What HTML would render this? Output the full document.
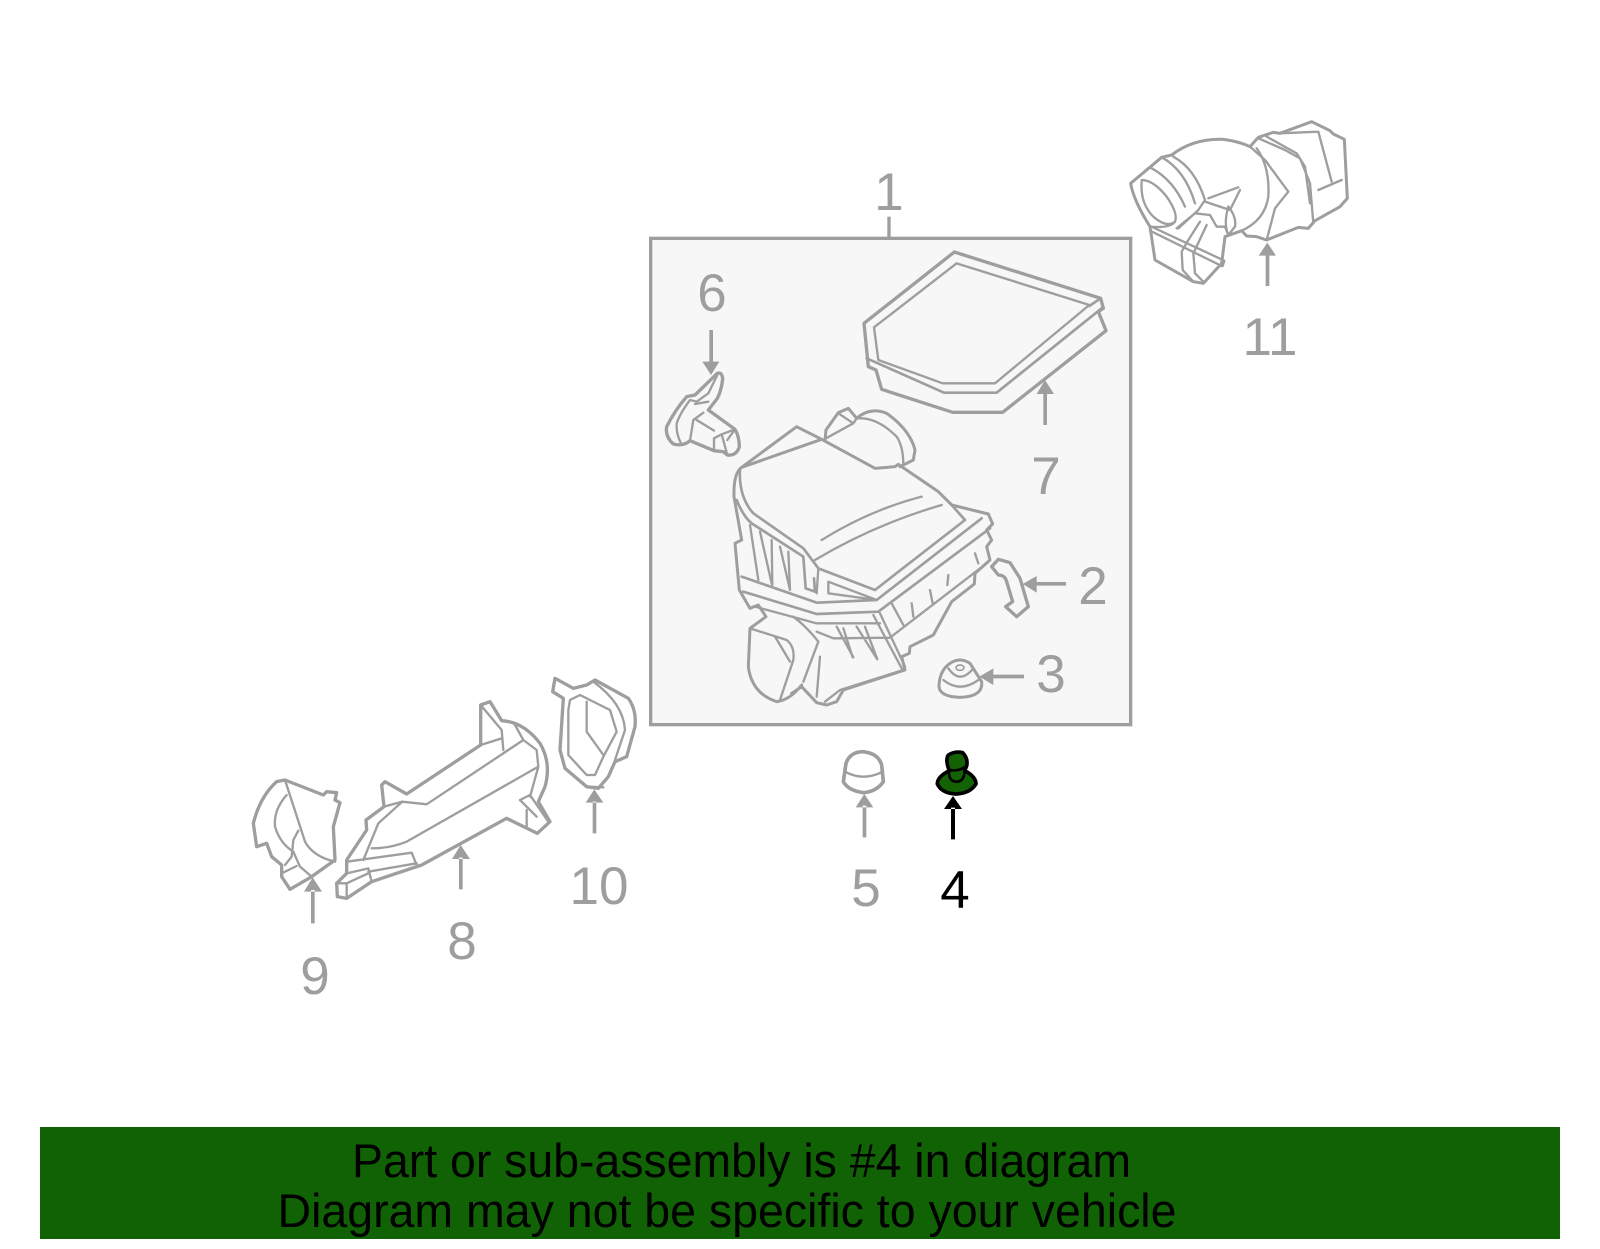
<!DOCTYPE html>
<html><head><meta charset="utf-8"><style>
html,body{margin:0;padding:0;background:#fff}
svg{display:block}
text{font-family:"Liberation Sans",sans-serif}
.n{font-size:53px;fill:#9e9e9e;text-anchor:middle}
g.l path,g.l ellipse{fill:none;stroke:#9e9e9e;stroke-linejoin:round;stroke-linecap:round}
</style></head><body>
<svg width="1600" height="1249" viewBox="0 0 1600 1249" xmlns="http://www.w3.org/2000/svg">
<rect width="1600" height="1249" fill="#fff"/>
<g transform="translate(640,220) scale(0.33333)">
<rect x="32" y="55" width="1440" height="1459" fill="#f7f7f7" stroke="#9e9e9e" stroke-width="10"/>
<path d="M747,-10V55" stroke="#9e9e9e" stroke-width="10"/>
<g class="l" fill="none">
<!-- filter -->
<path stroke-width="10" d="M943,96L1382,235L1390,265L1375,275L1398,332L1088,577L938,577L725,508L708,450L685,440L672,310Z"/>
<path stroke-width="7" d="M950,130L1348,255L1065,490L908,490L715,420L702,322Z"/>
<path stroke-width="8" d="M680,415L912,518L1070,518L1385,265M1348,258L1382,235"/>
<!-- part 6 -->
<path stroke-width="10" d="M232,460Q245,455 248,475Q245,510 232,535L205,570L285,628Q298,650 298,680Q290,708 262,705L250,695L222,692L150,662Q130,680 100,672Q75,650 80,620Q105,570 140,530L165,525Z"/>
<path stroke-width="7" d="M232,465L205,520L170,545L150,540Q120,580 110,610Q108,640 122,668M205,545L165,552M150,662L160,600L190,578M170,600L222,632M222,692L222,655L245,643L262,705M245,643L285,628L262,660"/>
<!-- airbox outer -->
<path stroke-width="9" d="M305,742L470,620L545,658M305,742L545,658L705,745L765,740L775,733L895,815L935,855L1045,882L1058,912L1040,930L1055,960L1040,980L1050,1020L1005,1060L1003,1092L935,1145L880,1245L810,1280L808,1300L785,1310L795,1350L610,1410L590,1445L560,1455L530,1448L485,1400L455,1420M305,742Q280,760 282,830L305,960L285,970L298,1110L330,1165L355,1155L378,1190L330,1225L325,1340Q335,1420 410,1445Q450,1440 485,1395"/>
<path stroke-width="8" d="M300,745Q295,830 340,880L490,985L535,1045L705,1110L975,900L935,855M305,1070L530,1148L710,1140L1025,895M310,1115L530,1182L715,1175L1050,925M290,840Q310,890 335,910L490,1010L497,1105L525,1115L522,1075"/>
<path stroke-width="7" d="M525,1020Q700,915 905,855M545,960Q690,870 845,830M330,915L355,1080M360,935L395,1090M395,960L397,1095M420,980L450,1110M445,995L450,1110M535,1045L530,1120M565,1085L710,1140L565,1120ZM345,1160L530,1210L720,1210M530,1235L580,1255L750,1253L1040,1030M700,1185L785,1345M720,1180L795,1340M590,1220L640,1312M610,1225L638,1312M650,1220L710,1315M675,1220L712,1318M755,1150L790,1215M815,1150L820,1190M870,1110L878,1150M925,1065L922,1095M1005,1000L1015,1030"/>
<path stroke-width="7" d="M330,1225L440,1260Q465,1280 460,1320L420,1440M405,1250L450,1325M460,1190Q500,1220 535,1265L490,1385M540,1310L530,1430M555,1445L600,1410L790,1350"/>
<path stroke-width="9" d="M555,660L558,630L595,578L625,565L650,595Q690,560 740,580Q810,630 825,690L820,720L780,740"/>
<path stroke-width="7" d="M650,595Q710,590 770,650Q790,680 790,735M595,580L640,610M558,655L640,610L650,595"/>
<!-- part 2 -->
<path stroke-width="10" d="M1055,1040L1075,1018L1110,1028L1140,1075L1165,1160L1130,1190L1097,1160L1118,1145L1100,1085Q1095,1065 1075,1065Z"/>
<!-- part 3 -->
<path stroke-width="9" d="M897,1395Q900,1350 930,1330Q960,1310 990,1330L1025,1385Q1030,1430 960,1432Q895,1430 897,1395Z"/>
<path stroke-width="7" d="M910,1380Q960,1420 1015,1380M925,1345Q960,1395 1000,1345"/>
<ellipse cx="960" cy="1343" rx="12" ry="8" stroke-width="5"/>
</g>
<g fill="#9e9e9e" stroke="none">
<path d="M208,330h11v100h-11zM187,425h51l-25,40z"/>
<path d="M1210,615h11v-100h-11zM1190,522h52l-27,-42z"/>
<path d="M1278,1086v11h-95v-11zM1190,1068v50l-42,-26z"/>
<path d="M1152,1364v11h-95v-11zM1060,1345v50l-42,-25z"/>
</g>
</g>
<text class="n" x="889" y="210">1</text>
<text class="n" x="1093" y="604">2</text>
<text class="n" x="1051" y="692">3</text>
<text class="n" x="712" y="311">6</text>
<text class="n" x="1046" y="494">7</text>
<text class="n" x="1270" y="355">11</text>
<text class="n" x="599" y="904">10</text>
<text class="n" x="462" y="959">8</text>
<text class="n" x="315" y="994">9</text>
<text class="n" x="866" y="906">5</text>
<text class="n" x="955" y="908" style="fill:#000">4</text>
<!-- part 11 -->
<g transform="translate(1110,100) scale(0.33333)">
<g class="l">
<path stroke-width="9" d="M62,250L155,172L185,165Q250,115 340,118Q390,125 420,140L445,112L490,97L510,100L605,65L660,92L670,102L703,118L712,295L690,320L615,362L595,385L565,382L470,420L440,410L410,408L395,392L345,410L335,490L280,550L250,545L135,480L120,380Q70,300 62,250Z"/>
<path stroke-width="7" d="M95,240Q130,240 170,290Q205,340 195,365Q180,385 120,380M95,245Q90,310 130,350Q170,385 195,365M125,205Q190,240 225,320M155,172Q225,210 255,310M190,170Q255,205 285,300L265,330L205,385M295,295L385,262M285,305L360,330L390,270M355,320Q380,350 375,380L355,405Q340,370 355,320M200,385L255,340L300,345L320,380L345,380L355,405M120,392L335,498M270,365L235,420M290,375L250,460L255,520L280,545M235,420L215,455L218,510L250,545M420,140L465,180L535,275L495,325L470,420M440,145Q480,200 475,290Q465,360 395,392M445,115L525,150L570,175L600,250L610,370M470,110L560,160L585,200L600,310M625,95L665,245M625,270L695,240M510,100L625,95"/>
<path stroke-width="7" d="M120,378L343,482L338,498"/>
</g>
<path fill="#9e9e9e" d="M467,558h11v-95h-11zM446,467h52l-26,-39z"/>
</g>
<!-- parts 8,9,10 -->
<g transform="translate(240,660) scale(0.33333)">
<g class="l">
<path stroke-width="10" d="M135,360L250,405L260,395L290,398L285,420L300,428L280,500L285,600L215,650L150,688L125,650L125,615L95,590L80,550L50,560L40,490Q60,410 110,365Z"/>
<path stroke-width="7" d="M135,360L195,545Q220,590 285,605M140,405Q100,450 105,500Q120,550 160,575L180,620L215,650M175,512L160,540L155,590L135,615M125,640L170,618"/>
<path stroke-width="10" d="M722,135L750,125L785,182Q850,185 900,250Q935,310 915,380L895,425L930,485L892,520L800,475L545,615L395,665L320,715L292,710L290,670L320,640L320,600L380,510L378,480L432,440L425,375L435,365L500,402L722,255Z"/>
<path stroke-width="7" d="M722,135L785,210L790,270M722,255L785,235M432,440L487,425L560,433L850,240L890,270L895,320L500,545Q450,565 395,565M487,425L415,490L370,600M320,605L515,578L530,615M320,640L385,625L395,665M385,635L530,610M290,670L320,670L320,715M320,670L385,640M825,195L850,240M895,320L870,410M840,420L870,405L925,485M840,420L890,470M860,450V500"/>
<path stroke-width="10" d="M945,55L1000,85L1040,75L1065,60L1165,115Q1190,150 1185,200L1160,290L1125,305L1105,350L1075,385L1040,380L975,325L960,270L970,115L938,95Z"/>
<path stroke-width="7" d="M990,120L1020,105L1110,150L1130,215L1090,290L1065,345H1040L985,285L985,150ZM1040,125V215L1090,285M1060,65Q1150,130 1155,210L1125,300M1040,380L1090,382"/>
</g>
<path fill="#9e9e9e" d="M213,790V690h11V790zM192,695h54l-28,-43zM657,688v-95h11v95zM636,597h54l-28,-42zM1058,520v-95h11v95zM1037,428h53l-27,-40z"/>
</g>
<!-- parts 5,4 -->
<g transform="translate(820,730) scale(0.33333)">
<g class="l">
<path stroke-width="11" d="M70,155L78,100Q90,65 130,65Q175,70 185,105L190,155Q170,185 130,188Q85,182 70,155Z"/>
<path stroke-width="7" d="M75,125Q130,155 188,125"/>
</g>
<path fill="#9e9e9e" d="M128,322v-95h11v95zM107,232h53l-27,-40z"/>
<path d="M352,162Q352,140 388,122Q375,90 385,75Q405,62 428,68Q445,85 440,108L434,122Q468,140 468,162Q450,190 408,192Q365,190 352,162Z" fill="#136305" stroke="#000" stroke-width="11" stroke-linejoin="round"/>
<path d="M387,118Q384,155 410,155Q436,155 434,112M387,120Q415,125 436,110" fill="none" stroke="#000" stroke-width="8"/>
<path d="M393,328v-95h12v95zM372,237h54l-27,-39z" fill="#000"/>
</g>
<rect x="40" y="1127" width="1520" height="112" fill="#116205"/>
<text x="352" y="1177" font-size="47" textLength="779" lengthAdjust="spacingAndGlyphs" fill="#000">Part or sub-assembly is #4 in diagram</text>
<text x="277.5" y="1227" font-size="47" textLength="899" lengthAdjust="spacingAndGlyphs" fill="#000">Diagram may not be specific to your vehicle</text>
</svg>
</body></html>
